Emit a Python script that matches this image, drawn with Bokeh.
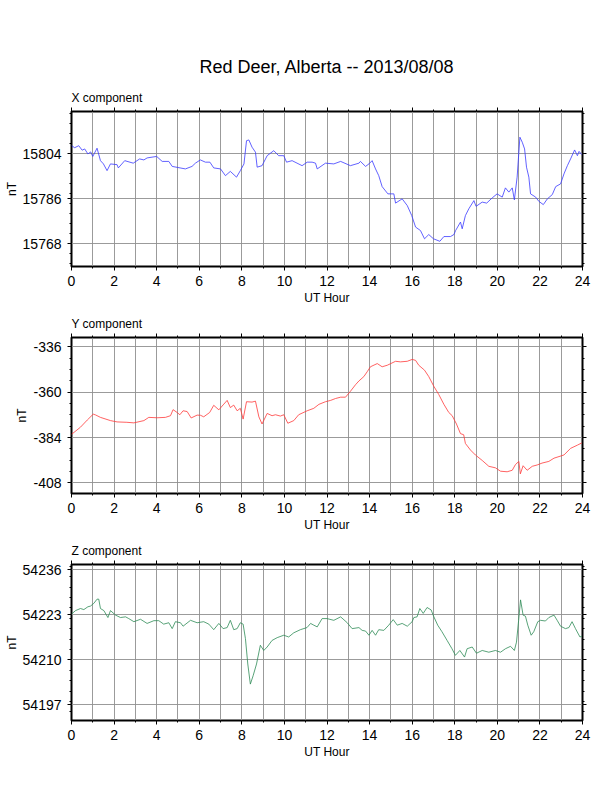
from bokeh.plotting import figure
from bokeh.models import (LinearAxis, FixedTicker, Range1d, Title, Grid,
                          CustomJSTickFormatter)
from bokeh.layouts import column
from bokeh.embed import file_html
from bokeh.resources import INLINE

# ---------------- data ----------------
main_title = "Red Deer, Alberta -- 2013/08/08"
x_label = "UT Hour"
y_label = "nT"
hour_ticks = [0, 2, 4, 6, 8, 10, 12, 14, 16, 18, 20, 22, 24]

x_title = "X component"
x_hours = [0.0, 0.15, 0.34, 0.5, 0.62, 0.77, 0.9, 1.0, 1.2, 1.36, 1.5, 1.67, 1.83, 2.14, 2.2, 2.5, 2.9,
           3.2, 3.4, 3.55, 4.0, 4.26, 4.57, 4.73, 5.1, 5.35, 5.66, 5.82, 6.05, 6.29, 6.5, 6.68, 7.0,
           7.23, 7.46, 7.75, 7.93, 8.1, 8.22, 8.33, 8.48, 8.64, 8.72, 8.95, 9.19, 9.5, 9.73, 9.97,
           10.1, 10.36, 10.83, 11.07, 11.3, 11.46, 11.54, 11.93, 12.32, 12.64, 13.1, 13.5, 13.57,
           13.81, 13.97, 14.12, 14.28, 14.43, 14.59, 14.86, 15.14, 15.22, 15.53, 15.77, 15.98,
           16.16, 16.39, 16.58, 16.78, 17.0, 17.3, 17.49, 17.8, 17.96, 18.04, 18.27, 18.35, 18.5,
           18.66, 18.9, 19.0, 19.29, 19.5, 19.76, 19.99, 20.23, 20.38, 20.54, 20.7, 20.8, 20.93,
           21.06, 21.17, 21.28, 21.37, 21.48, 21.56, 21.8, 21.95, 22.16, 22.35, 22.58, 22.74,
           22.97, 23.13, 23.29, 23.44, 23.63, 23.76, 23.84, 23.97]
x_values = [15807.3, 15806.5, 15807.3, 15805.5, 15806.0, 15804.0, 15804.8, 15803.0, 15806.3, 15801.3,
            15800.0, 15797.3, 15800.0, 15799.7, 15798.4, 15801.3, 15800.3, 15802.0, 15801.6, 15802.4,
            15803.0, 15801.0, 15801.0, 15799.0, 15798.4, 15798.0, 15799.0, 15800.3, 15801.6, 15800.7,
            15800.7, 15798.4, 15798.0, 15795.3, 15797.0, 15794.7, 15797.3, 15800.0, 15809.3, 15809.6,
            15806.7, 15804.7, 15798.7, 15799.3, 15803.3, 15805.3, 15803.3, 15803.3, 15800.7, 15801.3,
            15799.3, 15800.7, 15800.7, 15800.3, 15798.0, 15800.3, 15800.0, 15801.0, 15799.3, 15800.3,
            15801.0, 15799.0, 15800.0, 15801.3, 15798.0, 15795.3, 15790.9, 15788.0, 15788.0, 15784.3,
            15786.0, 15783.3, 15779.3, 15774.7, 15773.3, 15770.0, 15771.7, 15770.0, 15769.0, 15770.9,
            15770.9, 15771.7, 15773.3, 15776.7, 15774.0, 15779.3, 15782.0, 15785.3, 15783.0, 15784.7,
            15784.3, 15786.4, 15788.0, 15786.7, 15790.4, 15788.7, 15790.4, 15785.6, 15794.7, 15810.7,
            15808.7, 15806.0, 15798.7, 15794.7, 15788.0, 15786.7, 15785.0, 15783.7, 15786.0, 15787.7,
            15790.9, 15792.0, 15796.0, 15799.3, 15802.0, 15805.6, 15803.3, 15805.0, 15803.7]
x_yticks = [15768, 15786, 15804]

y_title = "Y component"
y_hours = [0.0, 0.42, 0.74, 1.02, 1.13, 1.36, 1.83, 2.14, 2.6, 2.93, 3.4, 3.63, 4.02, 4.41, 4.65, 4.77,
           4.96, 5.09, 5.24, 5.43, 5.62, 5.9, 6.06, 6.21, 6.49, 6.68, 6.92, 7.12, 7.31, 7.46, 7.62,
           7.78, 7.93, 8.06, 8.22, 8.48, 8.64, 8.8, 8.95, 9.19, 9.42, 9.58, 9.81, 9.97, 10.16, 10.44,
           10.67, 11.07, 11.38, 11.62, 11.93, 12.17, 12.4, 12.64, 12.87, 13.1, 13.34, 13.5, 13.73,
           13.89, 14.04, 14.36, 14.59, 14.83, 15.22, 15.45, 15.77, 16.0, 16.16, 16.31, 16.58, 16.78,
           17.02, 17.25, 17.49, 17.72, 17.88, 18.08, 18.27, 18.42, 18.5, 18.74, 18.97, 19.29, 19.6,
           19.91, 20.15, 20.46, 20.7, 20.85, 21.01, 21.08, 21.21, 21.4, 21.64, 21.87, 22.1, 22.42,
           22.66, 23.13, 23.44, 23.76, 23.97]
y_values = [-382.3, -378.5, -374.7, -371.6, -372.0, -373.3, -375.0, -375.7, -375.9, -376.2, -375.0,
            -373.3, -373.5, -373.3, -372.4, -369.2, -370.7, -371.9, -369.8, -370.2, -373.6, -372.1,
            -372.2, -373.0, -370.7, -366.9, -369.3, -366.7, -364.3, -368.1, -366.8, -369.8, -368.5,
            -374.2, -365.0, -365.2, -364.7, -373.0, -376.8, -371.2, -372.4, -371.9, -372.6, -371.9,
            -376.4, -375.0, -371.9, -369.8, -368.5, -366.4, -365.0, -364.3, -363.3, -362.6, -362.6,
            -359.5, -356.0, -354.0, -351.7, -349.1, -346.5, -344.8, -346.5, -345.7, -343.6, -343.9,
            -343.6, -342.6, -343.1, -345.7, -348.3, -351.7, -356.9, -361.2, -366.4, -370.7, -372.4,
            -376.8, -381.9, -382.5, -387.1, -390.6, -393.2, -396.1, -399.2, -400.0, -401.8, -402.1,
            -401.3, -398.3, -396.6, -403.2, -398.9, -401.3, -399.2, -398.5, -397.5, -396.6, -394.9,
            -393.2, -389.7, -388.0, -386.8]
y_yticks = [-408, -384, -360, -336]

z_title = "Z component"
z_hours = [0.0, 0.19, 0.42, 0.58, 0.77, 0.89, 1.05, 1.2, 1.28, 1.36, 1.52, 1.71, 1.83, 2.07, 2.3, 2.54,
           2.69, 2.93, 3.24, 3.55, 3.87, 4.1, 4.33, 4.57, 4.73, 4.88, 5.12, 5.24, 5.59, 5.9, 6.21,
           6.45, 6.68, 6.92, 7.12, 7.31, 7.46, 7.62, 7.78, 7.93, 8.06, 8.17, 8.28, 8.4, 8.53, 8.69,
           8.87, 9.03, 9.19, 9.42, 9.66, 9.97, 10.2, 10.44, 10.75, 11.06, 11.23, 11.38, 11.54, 11.77,
           12.0, 12.32, 12.64, 12.95, 13.18, 13.5, 13.65, 13.81, 13.97, 14.12, 14.28, 14.43, 14.67,
           14.9, 15.11, 15.3, 15.53, 15.77, 16.0, 16.08, 16.23, 16.36, 16.52, 16.7, 16.89, 17.02,
           17.2, 17.4, 17.64, 17.87, 18.03, 18.24, 18.46, 18.58, 18.82, 19.02, 19.29, 19.6, 19.91,
           20.15, 20.38, 20.62, 20.8, 20.9, 21.0, 21.09, 21.21, 21.32, 21.43, 21.59, 21.71, 21.9,
           22.03, 22.26, 22.42, 22.66, 22.81, 22.97, 23.2, 23.36, 23.51, 23.67, 23.88, 23.97]
z_values = [54223.2, 54224.2, 54224.8, 54224.5, 54225.3, 54225.5, 54226.3, 54227.5, 54227.5, 54224.8,
            54224.2, 54222.2, 54224.2, 54222.9, 54222.2, 54222.4, 54221.9, 54221.0, 54221.7, 54220.5,
            54221.3, 54221.3, 54220.3, 54220.7, 54219.0, 54221.0, 54220.7, 54219.7, 54221.4, 54220.7,
            54221.0, 54220.3, 54218.7, 54220.5, 54219.0, 54219.3, 54221.4, 54218.7, 54219.0, 54220.7,
            54220.3, 54216.1, 54208.8, 54203.0, 54205.4, 54208.8, 54214.2, 54212.7, 54213.7, 54215.6,
            54216.4, 54217.1, 54216.6, 54217.8, 54218.7, 54219.3, 54220.5, 54220.0, 54219.5, 54221.9,
            54221.9, 54221.4, 54222.4, 54220.7, 54219.0, 54219.3, 54218.5, 54218.3, 54217.1, 54218.5,
            54217.1, 54218.7, 54218.5, 54220.0, 54221.6, 54220.0, 54220.5, 54219.7, 54221.0, 54222.2,
            54222.4, 54224.8, 54223.4, 54225.1, 54224.4, 54222.4, 54220.0, 54218.1, 54215.6, 54213.2,
            54211.3, 54212.7, 54210.8, 54213.2, 54213.7, 54211.9, 54212.7, 54212.2, 54212.7, 54212.2,
            54213.2, 54213.9, 54212.7, 54215.1, 54221.4, 54227.3, 54222.9, 54222.6, 54220.0, 54217.1,
            54218.1, 54221.0, 54221.4, 54221.2, 54222.2, 54222.9, 54221.4, 54219.7, 54219.0, 54219.3,
            54221.0, 54219.0, 54216.6, 54216.8]
z_yticks = [54197, 54210, 54223, 54236]

# ---------------- styling ----------------
FONT = "Liberation Sans"
W = 604


def style_axis(ax, labels=True):
    ax.axis_line_color = None
    ax.major_tick_in = 0
    ax.major_tick_out = 4
    ax.minor_tick_in = 0
    ax.minor_tick_out = 2
    ax.major_tick_line_color = "black"
    ax.minor_tick_line_color = "black"
    ax.major_label_text_font = FONT
    ax.major_label_text_font_size = "14px"
    ax.major_label_text_color = "black"
    ax.axis_label_text_font = FONT
    ax.axis_label_text_font_size = "12px"
    ax.axis_label_text_font_style = "normal"
    ax.axis_label_text_color = "black"
    if labels:
        ax.formatter = CustomJSTickFormatter(code="return tick.toFixed(0)")
    else:
        ax.formatter = CustomJSTickFormatter(code="return ''")
        ax.major_label_text_font_size = "1px"
        ax.major_label_standoff = 0


def panel(hours, values, color, yr, yticks, yminor_step, comp_title, height, top, with_main):
    p = figure(width=W, height=height, x_range=Range1d(0, 24), y_range=Range1d(*yr),
               output_backend="svg", toolbar_location=None, title=None,
               x_axis_location=None, y_axis_location=None,
               min_border_left=71, min_border_right=22, min_border_top=top,
               min_border_bottom=45)
    p.center = [r for r in p.center if not isinstance(r, Grid)]
    p.outline_line_color = "black"
    p.outline_line_width = 2
    p.background_fill_color = "white"
    p.border_fill_color = "white"

    lo = int(yr[0] // yminor_step) * yminor_step
    yminor = [lo + k * yminor_step for k in range(int((yr[1] - lo) // yminor_step) + 2)]
    xt = FixedTicker(ticks=hour_ticks, minor_ticks=list(range(0, 25)))
    yt = FixedTicker(ticks=yticks, minor_ticks=yminor)

    p.add_layout(Grid(dimension=0, ticker=FixedTicker(ticks=list(range(0, 25))),
                      grid_line_color="#909090", grid_line_width=0.9))
    p.add_layout(Grid(dimension=1, ticker=FixedTicker(ticks=yticks),
                      grid_line_color="#909090", grid_line_width=0.9))

    below = LinearAxis(ticker=xt, axis_label=x_label)
    style_axis(below)
    below.major_label_standoff = 5
    below.axis_label_standoff = 2
    p.add_layout(below, "below")
    above = LinearAxis(ticker=xt)
    style_axis(above, labels=False)
    p.add_layout(above, "above")
    left = LinearAxis(ticker=yt, axis_label=y_label)
    style_axis(left)
    left.major_label_standoff = 6
    left.axis_label_standoff = 1
    p.add_layout(left, "left")
    right = LinearAxis(ticker=yt)
    style_axis(right, labels=False)
    p.add_layout(right, "right")

    p.add_layout(Title(text=comp_title, align="left", text_font=FONT, text_font_size="12px",
                       text_font_style="normal", text_color="black", standoff=5), "above")
    if with_main:
        p.add_layout(Title(text=main_title, align="center", text_font=FONT,
                           text_font_size="18px", text_font_style="normal",
                           text_color="black", standoff=20), "above")

    p.line(hours, values, line_color=color, line_width=0.8)
    return p


p1 = panel(x_hours, x_values, "#3a3aff", (15758.9, 15821.0), x_yticks, 4, x_title, 311, 111, True)
p2 = panel(y_hours, y_values, "#ff3a3a", (-413.6, -331.0), y_yticks, 6, y_title, 227, 26, False)
p3 = panel(z_hours, z_values, "#2e8b57", (54192.5, 54237.5), z_yticks, 3, z_title, 227, 26, False)

layout = column(p1, p2, p3)
open("out.html", "w").write(file_html(layout, INLINE))
